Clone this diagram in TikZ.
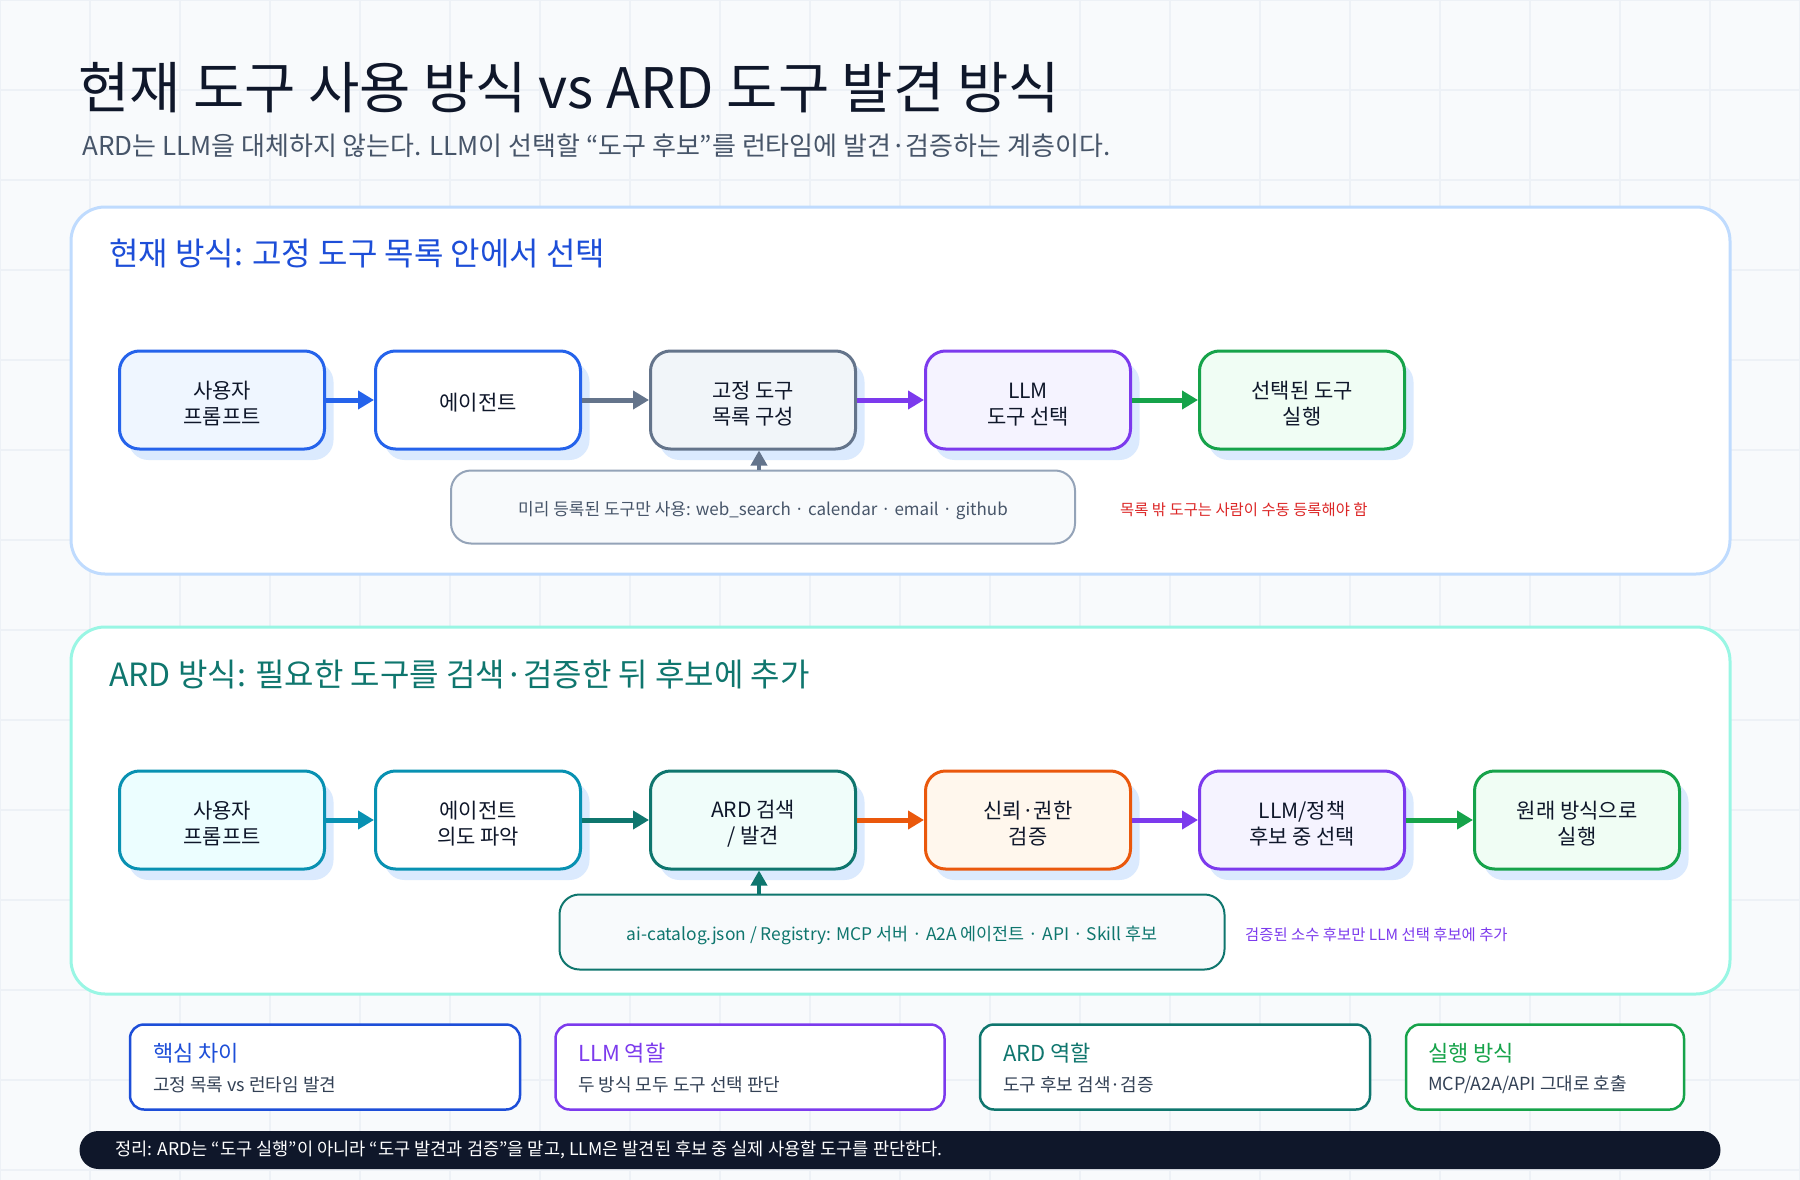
\documentclass[tikz,border=0pt]{standalone}
\usepackage{fontspec}
\setmainfont{Noto Sans CJK KR}
\usepackage{tikz}
\usetikzlibrary{arrows.meta, shadows}

\definecolor{bgpage}{HTML}{F8FAFC}
\definecolor{gridline}{HTML}{EDF1F6}
\definecolor{ink}{HTML}{0F172A}
\definecolor{subgray}{HTML}{475569}
\definecolor{bodygray}{HTML}{334155}
\definecolor{deepblue}{HTML}{1D4ED8}
\definecolor{brightblue}{HTML}{2563EB}
\definecolor{paleblue}{HTML}{EFF6FF}
\definecolor{shblue}{HTML}{DBEAFE}
\definecolor{panelblue}{HTML}{BFDBFE}
\definecolor{panelteal}{HTML}{99F6E4}
\definecolor{slate}{HTML}{64748B}
\definecolor{paleslate}{HTML}{F1F5F9}
\definecolor{lineslate}{HTML}{94A3B8}
\definecolor{violet}{HTML}{7C3AED}
\definecolor{paleviolet}{HTML}{F5F3FF}
\definecolor{leaf}{HTML}{16A34A}
\definecolor{paleleaf}{HTML}{F0FDF4}
\definecolor{cyanish}{HTML}{0891B2}
\definecolor{palecyan}{HTML}{ECFEFF}
\definecolor{teal}{HTML}{0F766E}
\definecolor{paleteal}{HTML}{F0FDFA}
\definecolor{ember}{HTML}{EA580C}
\definecolor{paleember}{HTML}{FFF7ED}
\definecolor{alert}{HTML}{DC2626}
\definecolor{navy}{HTML}{0F172A}

\begin{document}
\begin{tikzpicture}[
    x=1pt, y=-1pt,
    >={Triangle[length=16pt, width=18pt]},
    stage/.style={
        draw, line width=3pt, rounded corners=20pt, minimum width=205pt, minimum height=98pt,
        align=center, text=ink, font=\fontsize{21}{26}\selectfont,
        execute at begin node={\rule{0pt}{22pt}},
        general shadow={fill=shblue, shadow xshift=9pt, shadow yshift=-11pt}
    },
    twoline/.style={execute at begin node={\rule{0pt}{51pt}}},
    srcbox/.style={
        draw, line width=2pt, rounded corners=20pt, fill=bgpage,
        execute at begin node={\rule{0pt}{21.5pt}}
    },
    card/.style={
        draw, line width=2.5pt, rounded corners=14pt, fill=white, minimum height=85pt
    },
    cardhead/.style={anchor=west, inner sep=0pt, font=\fontsize{22}{26}\selectfont},
    cardbody/.style={anchor=west, inner sep=0pt, text=bodygray, font=\fontsize{18}{22}\selectfont},
    panel/.style={line width=3pt, rounded corners=34pt, fill=white},
    flow/.style={->, line width=5pt},
    feed/.style={->, line width=3.5pt, >={Triangle[length=15pt, width=16pt]}}
]

% PAGE + GRID (1800 x 1180)
\useasboundingbox (0,0) rectangle (1800,1180);
\fill[bgpage] (0,0) rectangle (1800,1180);
\foreach \gx in {0,90,...,1800} \draw[gridline, line width=1.2pt] (\gx,0) -- (\gx,1180);
\foreach \gy in {0,90,...,1180} \draw[gridline, line width=1.2pt] (0,\gy) -- (1800,\gy);

% HEADER
\node[anchor=west, inner sep=0pt, text=ink, font=\fontsize{55.8}{62}\selectfont] (title) at (78,88) {현재 도구 사용 방식 vs ARD 도구 발견 방식};
\node[anchor=west, inner sep=0pt, text=subgray, font=\fontsize{26}{30}\selectfont] (subtitle) at (82,146) {ARD는 LLM을 대체하지 않는다. LLM이 선택할 “도구 후보”를 런타임에 발견·검증하는 계층이다.};

% PANEL 1: CURRENT WAY
\draw[panel, draw=panelblue] (71,207) rectangle (1730,574);
\node[anchor=west, inner sep=0pt, text=deepblue, font=\fontsize{32}{38}\selectfont] (curhead) at (109,254) {현재 방식: 고정 도구 목록 안에서 선택};

\node[stage, twoline, draw=brightblue, fill=paleblue] (prompt) at (222,400) {사용자\\프롬프트};
\node[stage, draw=brightblue, fill=white] (agent) at (478,400) {에이전트};
\node[stage, twoline, draw=slate, fill=paleslate] (fixed) at (753,400) {고정 도구\\목록 구성};
\node[stage, twoline, draw=violet, fill=paleviolet] (llmpick) at (1028,400) {LLM\\도구 선택};
\node[stage, twoline, draw=leaf, fill=paleleaf] (runpick) at (1302,400) {선택된 도구\\실행};

\node[srcbox, draw=lineslate, text=subgray, font=\fontsize{17}{21}\selectfont, minimum width=624pt, minimum height=73pt] (fixedlist) at (763,507) {미리 등록된 도구만 사용: web\_search · calendar · email · github};
\node[anchor=west, inner sep=0pt, text=alert, font=\fontsize{15.4}{18}\selectfont] (manualnote) at (1120,510) {목록 밖 도구는 사람이 수동 등록해야 함};

\draw[flow, brightblue] (prompt.east) -- (agent.west);
\draw[flow, slate] (agent.east) -- (fixed.west);
\draw[flow, violet] (fixed.east) -- (llmpick.west);
\draw[flow, leaf] (llmpick.east) -- (runpick.west);
\draw[feed, slate] (fixedlist.north -| 759,0) -- (fixed.south -| 759,0);

% PANEL 2: ARD WAY
\draw[panel, draw=panelteal] (71,627) rectangle (1730,994);
\node[anchor=west, inner sep=0pt, text=teal, font=\fontsize{32}{38}\selectfont] (ardhead) at (109,674) {ARD 방식: 필요한 도구를 검색·검증한 뒤 후보에 추가};

\node[stage, twoline, draw=cyanish, fill=palecyan] (ardprompt) at (222,820) {사용자\\프롬프트};
\node[stage, twoline, draw=cyanish, fill=white] (intent) at (478,820) {에이전트\\의도 파악};
\node[stage, twoline, draw=teal, fill=paleteal] (discover) at (753,820) {ARD 검색\\/ 발견};
\node[stage, twoline, draw=ember, fill=paleember] (verify) at (1028,820) {신뢰·권한\\검증};
\node[stage, twoline, draw=violet, fill=paleviolet] (policy) at (1302,820) {LLM/정책\\후보 중 선택};
\node[stage, twoline, draw=leaf, fill=paleleaf] (runorig) at (1577,820) {원래 방식으로\\실행};

\node[srcbox, draw=teal, text=teal, font=\fontsize{17.4}{21}\selectfont, minimum width=665pt, minimum height=75pt] (catalog) at (892,932) {ai-catalog.json / Registry: MCP 서버 · A2A 에이전트 · API · Skill 후보};
\node[anchor=west, inner sep=0pt, text=violet, font=\fontsize{15.4}{18}\selectfont] (fewnote) at (1245,935) {검증된 소수 후보만 LLM 선택 후보에 추가};

\draw[flow, cyanish] (ardprompt.east) -- (intent.west);
\draw[flow, teal] (intent.east) -- (discover.west);
\draw[flow, ember] (discover.east) -- (verify.west);
\draw[flow, violet] (verify.east) -- (policy.west);
\draw[flow, leaf] (policy.east) -- (runorig.west);
\draw[feed, teal] (catalog.north -| 759,0) -- (discover.south -| 759,0);

% SUMMARY CARDS
\node[card, draw=deepblue, minimum width=390pt] (diffcard) at (325,1067) {};
\node[cardhead, text=deepblue] (diffhead) at (153,1053) {핵심 차이};
\node[cardbody] (diffbody) at (153,1085) {고정 목록 vs 런타임 발견};

\node[card, draw=violet, minimum width=389pt] (llmcard) at (750,1067) {};
\node[cardhead, text=violet] (llmhead) at (578,1053) {LLM 역할};
\node[cardbody] (llmbody) at (578,1085) {두 방식 모두 도구 선택 판단};

\node[card, draw=teal, minimum width=390pt] (ardcard) at (1175,1067) {};
\node[cardhead, text=teal] (ardcardhead) at (1003,1053) {ARD 역할};
\node[cardbody] (ardbody) at (1003,1085) {도구 후보 검색·검증};

\node[card, draw=leaf, minimum width=278pt] (runcard) at (1545,1067) {};
\node[cardhead, text=leaf] (runhead) at (1428,1053) {실행 방식};
\node[cardbody] (runbody) at (1428,1085) {MCP/A2A/API 그대로 호출};

% BOTTOM LINE
\node[fill=navy, rounded corners=19pt, minimum width=1641pt, minimum height=38pt, inner sep=0pt] (summarybar) at (900,1150) {};
\node[anchor=west, inner sep=0pt, text=white, font=\fontsize{17.6}{21}\selectfont] (summary) at (115,1150) {정리: ARD는 “도구 실행”이 아니라 “도구 발견과 검증”을 맡고, LLM은 발견된 후보 중 실제 사용할 도구를 판단한다.};

\end{tikzpicture}
\end{document}
